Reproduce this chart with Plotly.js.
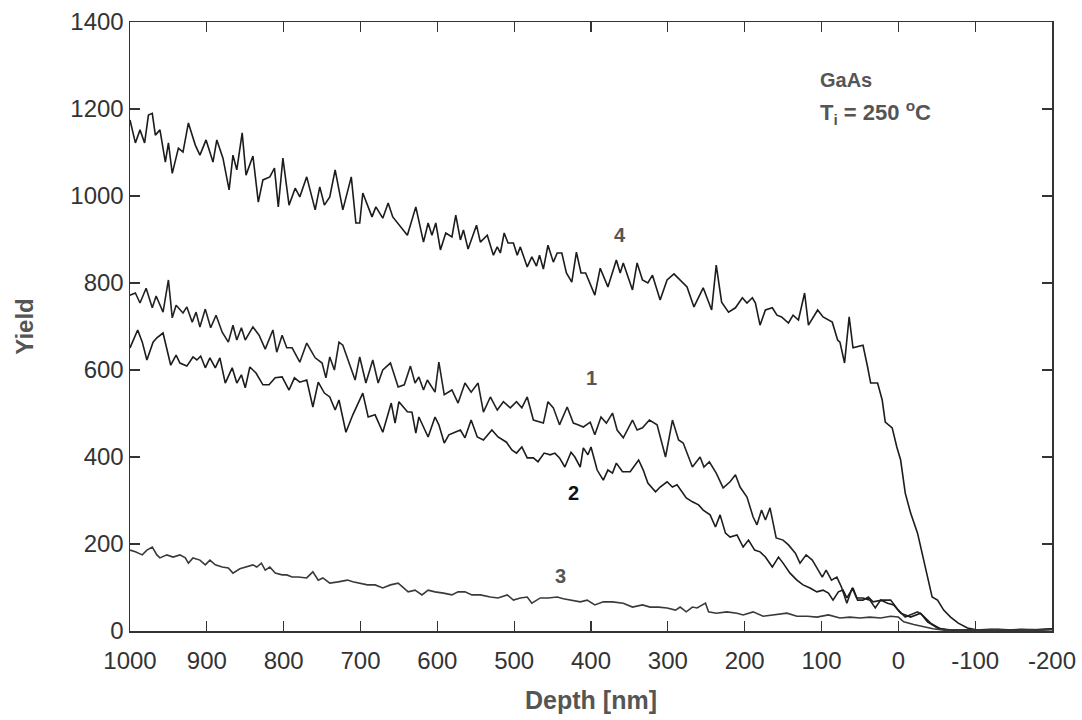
<!DOCTYPE html>
<html>
<head>
<meta charset="utf-8">
<script src="https://cdn.plot.ly/plotly-3.0.1.min.js"></script>
<style>
  html, body { margin: 0; padding: 0; background: #ffffff; }
  #chart { width: 1082px; height: 720px; }
</style>
</head>
<body>
<div id="chart"></div>
<script>
// ---- Data (depth in nm, yield in counts) ----
const depth4 = [
  1000,993,987,981,976,971,967,961,954,950,
  945,937,931,924,915,909,901,892,887,879,
  871,866,861,854,849,840,833,827,818,812,
  807,801,793,785,779,770,759,753,747,740,
  733,723,712,706,701,697,685,680,671,664,
  658,646,639,628,618,612,607,602,596,589,
  581,576,570,566,560,549,544,535,527,522,
  518,513,508,501,496,492,483,477,471,467,
  462,456,449,444,438,432,425,419,413,407,
  395,388,378,367,362,358,346,340,333,326,
  320,310,301,292,284,275,266,254,243,237,
  230,221,212,203,197,190,186,180,173,164,
  158,152,143,137,130,122,117,105,98,86,
  79,76,70,64,59,46,40,36,27,21,
  17,8,2,-3,-9,-16,-25,-31,-38,-44,
  -51,-59,-68,-78,-90,-103,-120,-140,-160,-180,-200
];
const yield4 = [
  1175,1122,1152,1122,1186,1190,1140,1152,1078,1122,
  1052,1110,1101,1168,1117,1094,1129,1078,1129,1087,
  1014,1094,1060,1145,1048,1092,986,1037,1044,1064,
  975,1087,979,1018,998,1044,968,1021,979,998,
  1060,968,1044,938,938,1007,952,975,949,984,
  952,926,910,975,894,938,910,938,876,915,
  906,956,899,922,878,933,894,910,864,883,
  869,915,892,892,864,883,837,860,839,864,
  832,887,848,869,869,823,802,871,823,823,
  772,834,791,853,823,846,784,846,807,800,
  818,761,807,821,807,791,745,789,738,841,
  756,733,743,766,754,766,754,703,738,743,
  726,722,708,726,715,777,703,738,722,710,
  669,664,616,722,651,657,607,570,570,531,
  480,467,423,393,317,271,225,179,124,78,
  71,48,32,18,7,2,3,2,4,3,5
];

const depth1 = [
  1000,993,987,979,971,966,957,950,945,940,
  931,926,919,914,909,902,895,888,880,872,
  866,861,855,850,840,832,824,814,809,802,
  796,789,779,770,759,750,745,740,734,728,
  723,715,707,701,693,684,677,671,661,651,
  643,635,629,624,618,613,603,598,591,581,
  573,564,556,547,540,531,522,514,505,497,
  490,483,475,462,456,449,441,431,423,417,
  410,401,395,387,380,372,366,358,346,340,
  333,324,314,303,294,286,280,268,258,253,
  246,237,228,219,212,206,197,189,184,178,
  173,167,159,150,143,134,128,120,112,106,
  99,94,87,80,74,67,60,53,46,39,
  33,21,10,0,-9,-25,-31,-42,-55,-70,
  -90,-110,-130,-150,-170,-200
];
const yield1 = [
  772,777,754,788,743,770,733,807,720,749,
  731,745,710,733,699,740,697,726,687,664,
  703,669,697,669,699,680,648,692,641,680,
  651,651,618,662,628,616,582,630,600,664,
  657,616,577,630,570,623,570,600,616,561,
  566,609,570,584,554,577,549,618,543,554,
  524,570,549,570,503,538,508,527,513,527,
  513,538,485,478,527,513,474,515,478,474,
  469,480,451,492,478,501,462,444,485,462,
  467,485,474,400,485,439,432,377,400,377,
  389,363,329,343,359,331,308,262,244,278,
  255,283,214,209,198,179,156,175,163,145,
  124,140,117,124,101,64,99,71,71,78,
  67,71,71,48,32,44,37,18,5,2,
  3,2,4,2,3,4
];

const depth2 = [
  1000,990,984,978,970,965,957,947,940,935,
  926,918,913,908,902,896,889,883,876,867,
  861,855,850,844,836,827,819,811,802,793,
  786,779,770,762,755,747,740,733,728,719,
  710,697,690,681,671,660,655,650,639,633,
  628,624,618,612,603,598,591,585,577,570,
  564,556,548,540,529,521,510,503,497,490,
  483,475,469,461,453,447,441,434,426,421,
  414,410,404,400,392,384,378,372,367,359,
  349,338,332,326,316,310,301,294,288,281,
  276,268,260,254,245,238,232,225,219,210,
  202,195,187,180,173,164,156,150,141,132,
  124,115,106,98,91,85,78,72,67,59,
  54,46,37,30,23,14,6,-3,-16,-29,
  -38,-51,-64,-80,-100,-120,-140,-160,-180,-200
];
const yield2 = [
  651,692,664,623,664,674,685,611,634,616,
  609,630,623,632,605,628,605,628,570,605,
  570,589,559,607,593,566,566,582,584,554,
  582,572,577,515,572,547,538,508,531,457,
  497,547,492,497,457,524,478,527,504,503,
  455,492,469,446,492,474,432,451,457,462,
  444,485,446,439,462,446,434,416,409,423,
  398,398,389,409,405,409,398,377,411,400,
  377,421,405,423,370,347,370,363,386,366,
  366,393,370,340,320,331,343,331,336,317,
  306,297,290,278,267,239,267,225,216,221,
  193,209,186,182,170,147,170,156,133,117,
  106,99,90,94,87,71,90,94,76,99,
  76,76,71,53,71,64,60,41,32,41,
  21,7,2,3,2,4,2,3,2,4
];

const depth3 = [
  1000,993,984,978,971,965,961,952,944,935,
  928,924,918,909,902,896,889,880,872,866,
  857,848,840,835,829,824,818,811,802,796,
  789,781,770,762,755,749,740,729,717,710,
  701,691,681,671,661,651,645,638,629,620,
  612,603,592,581,573,564,555,544,531,521,
  509,501,492,483,477,466,456,444,436,423,
  414,405,395,384,372,358,346,333,323,312,
  301,290,284,276,268,262,251,247,237,223,
  210,202,189,176,163,145,132,118,106,91,
  76,63,50,37,23,10,0,-7,-20,-33,
  -45,-60,-80,-100,-130,-160,-200
];
const yield3 = [
  186,182,175,186,193,175,168,175,170,175,
  168,156,168,163,152,163,152,147,145,133,
  143,147,152,147,156,140,147,133,129,129,
  124,124,122,136,117,122,110,113,117,113,
  110,106,106,99,106,110,101,90,94,83,
  94,90,87,83,90,90,83,83,78,76,
  83,71,76,78,64,76,76,78,74,69,
  67,71,60,67,67,64,55,60,55,55,
  53,48,55,44,55,53,64,44,41,44,
  41,37,44,34,37,41,34,34,32,37,
  30,32,30,32,30,34,32,21,15,9,
  5,2,3,2,3,2,3
];

// Tick labels
const xTickVals = [1000,900,800,700,600,500,400,300,200,100,0,-100,-200];
const xTickText = ["1000","900","800","700","600","500","400","300","200","100","0","-100","-200"];
const yTickVals = [0,200,400,600,800,1000,1200,1400];
const yTickText = ["0","200","400","600","800","1000","1200","1400"];

// Curve labels
const curveNames = ["4","1","2","3"];
const curveLabelX = [362,400,423,440];
const curveLabelY = [910,582,317,126];

// ---- Plot ----
const lineStyle = (c) => ({color: c, width: 1.6});
const traces = [
  {x: depth4, y: yield4, mode: "lines", line: lineStyle("#1c1c1c"), name: "4"},
  {x: depth1, y: yield1, mode: "lines", line: lineStyle("#222222"), name: "1"},
  {x: depth2, y: yield2, mode: "lines", line: lineStyle("#1c1c1c"), name: "2"},
  {x: depth3, y: yield3, mode: "lines", line: lineStyle("#3a3a3a"), name: "3"}
];

const FONT = "Liberation Sans, Arial, sans-serif";
const labelColors = ["#555555","#555555","#111111","#555555"];
const annotations = curveNames.map((t, i) => ({
  x: curveLabelX[i], y: curveLabelY[i], xref: "x", yref: "y",
  text: "<b>" + t + "</b>", showarrow: false,
  font: {family: FONT, size: 20, color: labelColors[i]}
}));
annotations.push({
  x: 104, y: 1267, xref: "x", yref: "y", xanchor: "left",
  text: "<b>GaAs</b>", showarrow: false,
  font: {family: FONT, size: 20, color: "#555555"}
});
annotations.push({
  x: 104, y: 1191, xref: "x", yref: "y", xanchor: "left",
  text: "<b>T<sub>i</sub> = 250 <sup>o</sup>C</b>", showarrow: false,
  font: {family: FONT, size: 22, color: "#555555"}
});

const axisCommon = {
  showgrid: false, zeroline: false,
  showline: true, linecolor: "#333333", linewidth: 1.5, mirror: "ticks",
  ticks: "inside", ticklen: 10, tickwidth: 1.2, tickcolor: "#333333",
  tickfont: {family: FONT, size: 24, color: "#333333"}
};

const layout = {
  width: 1082, height: 720,
  margin: {l: 130, r: 30, t: 22, b: 89},
  paper_bgcolor: "#ffffff", plot_bgcolor: "#ffffff",
  showlegend: false,
  xaxis: Object.assign({}, axisCommon, {
    range: [1000, -200], autorange: false,
    tickmode: "array", tickvals: xTickVals, ticktext: xTickText,
    ticklabelstandoff: 8,
    title: {text: "<b>Depth [nm]</b>", standoff: 18,
      font: {family: FONT, size: 25, color: "#555555"}}
  }),
  yaxis: Object.assign({}, axisCommon, {
    range: [0, 1400], autorange: false,
    tickmode: "array", tickvals: yTickVals, ticktext: yTickText,
    title: {text: "<b>Yield</b>", standoff: 30,
      font: {family: FONT, size: 24, color: "#555555"}}
  }),
  annotations: annotations
};

Plotly.newPlot("chart", traces, layout, {displayModeBar: false, staticPlot: true});
</script>
</body>
</html>
